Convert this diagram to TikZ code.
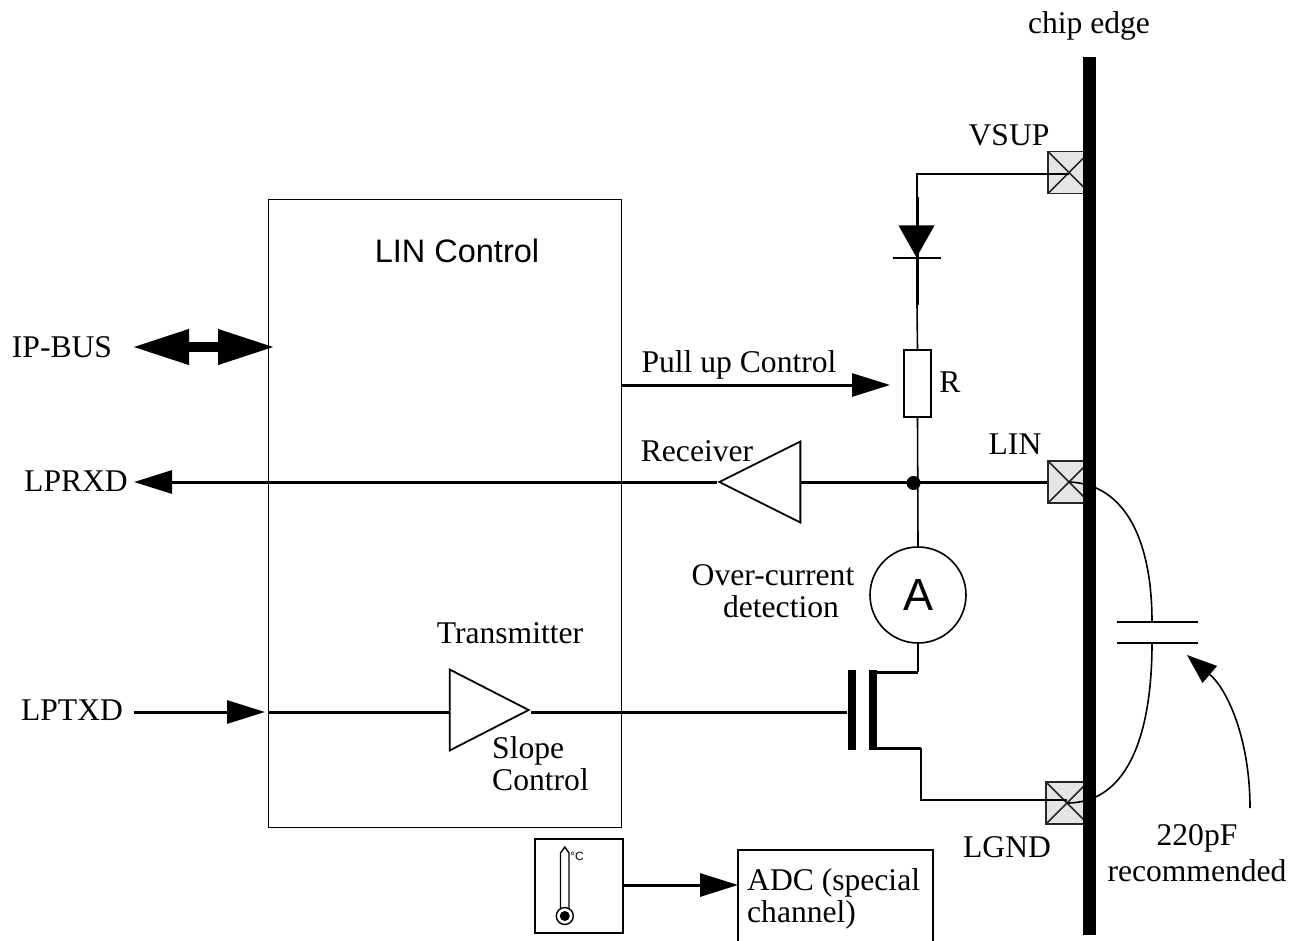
\documentclass[tikz,border=0pt]{standalone}
\usepackage{fontspec}
\setmainfont{Liberation Serif}
\setsansfont{Liberation Sans}
\usetikzlibrary{arrows.meta,shapes.geometric}

\begin{document}
\begin{tikzpicture}[
  x=1pt, y=-1pt,
  lbl/.style={inner sep=0pt, font=\fontsize{31.6}{32}\selectfont, align=center},
  box/.style={rectangle, draw=black, line width=1.4pt, fill=white, inner sep=0pt},
  pad/.style={rectangle, draw=black!85, line width=1.6pt, fill=gray!20, inner sep=0pt,
    minimum width=42pt, minimum height=42pt,
    path picture={\draw[line width=1.6pt] (path picture bounding box.north west) -- (path picture bounding box.south east)
      (path picture bounding box.south west) -- (path picture bounding box.north east);}},
  buffer/.style={isosceles triangle, isosceles triangle stretches, draw=black, line width=1.8pt,
    fill=white, inner sep=0pt, minimum width=81pt},
  plate/.style={rectangle, fill=black, inner sep=0pt, minimum width=81pt, minimum height=1.8pt},
  gatebar/.style={rectangle, fill=black, inner sep=0pt, minimum width=8pt, minimum height=80pt},
  wire/.style={line width=1.6pt},
  signal/.style={line width=3pt},
  sig/.style={signal, -{Triangle[length=38pt, width=23pt]}}
]
\useasboundingbox (0,0) rectangle (1304,941);

\node[box, line width=1pt, minimum width=353pt, minimum height=627pt] (lin) at (444.5,513.5) {};
\node[lbl, font=\sffamily\fontsize{32.5}{34}\selectfont] (linlbl) at (457,251) {LIN Control};

\node[pad] (vsup) at (1069,172.5) {};
\node[pad] (linpad) at (1069,482) {};
\node[pad] (lgnd) at (1067,803) {};

\node[plate] (captop) at (1157,622) {};
\node[plate] (capbot) at (1157,643) {};
\draw[wire] (linpad.center) .. controls (1125,484) and (1152,540) .. (1152,622);
\draw[wire] (1152,643) .. controls (1152,730) and (1130,803) .. (lgnd.center);

\node[rectangle, fill=black, inner sep=0pt, minimum width=13pt, minimum height=878pt] (edge) at (1089.5,496) {};
\node[lbl] (edgelbl) at (1089,26) {chip edge};

\node[lbl] (vsuplbl) at (1009,135) {VSUP};
\node[lbl] (linplbl) at (1015,444) {LIN};
\node[lbl] (lgndlbl) at (1007,847) {LGND};
\node[lbl] (ipbus) at (62,347) {IP-BUS};
\node[lbl] (lprxd) at (76,481) {LPRXD};
\node[lbl] (lptxd) at (72,710) {LPTXD};
\node[lbl] (pulllbl) at (739,365) {Pull up Control};
\node[lbl] (rlbl) at (950,382) {R};
\node[lbl] (rxlbl) at (697,451) {Receiver};
\node[lbl] (ovlbl) at (773,591) {Over-current\\\hspace*{16pt}detection};
\node[lbl] (txlbl) at (510,633) {Transmitter};
\node[lbl, align=left] (slopelbl) at (540.5,764) {Slope\\Control};
\node[lbl] (notelbl) at (1197,853) {220pF\\[4pt]recommended};

\coordinate (vbend) at (917,174);
\coordinate (sbend) at (921,748);
\coordinate (ipl) at (132,347);
\coordinate (ipr) at (275,347);
\coordinate (rxl) at (134,482);
\coordinate (txl) at (134,712);
\coordinate (noteend) at (1250,808);
\coordinate (pullr) at (890,385);

\node[isosceles triangle, isosceles triangle stretches, shape border rotate=270, fill=black,
  inner sep=0pt, minimum width=36pt, minimum height=32pt, anchor=apex] (diode) at (916.5,258) {};
\node[plate, minimum width=48pt] (cathode) at (916.5,258) {};
\node[box, minimum width=27pt, minimum height=67pt] (res) at (917.5,383.5) {};
\node[circle, draw=black, line width=1.6pt, fill=white, inner sep=0pt, minimum size=96pt,
  font=\sffamily\fontsize{45}{48}\selectfont] (amp) at (918,595) {A};
\node[buffer, minimum height=81pt, shape border rotate=180, anchor=apex] (rx) at (717,482) {};
\node[buffer, minimum height=79pt, anchor=apex] (tx) at (531,710) {};
\node[gatebar] (gate) at (851.5,709.5) {};
\node[gatebar] (chan) at (873,709.5) {};
\node[circle, fill=black, inner sep=0pt, minimum width=13pt, minimum height=14pt] (junc) at (913.5,483) {};

\draw[wire] (vsup.center |- vbend) -- (vbend) -- (vbend |- diode.lower side);
\draw[signal] (917,197) -- (917,305);
\draw[wire] (917,305) -- (res.north);
\draw[wire] (res.south) -- (amp.north);
\draw[wire] (amp.south) -- (918,672);
\draw[signal] (chan.north east |- 0,672) -- (918,672);
\draw[signal] (chan.south east |- 0,748) -- (sbend);
\draw[wire] (sbend) -- (921,800) -- (lgnd.center |- 0,800);

\draw[signal] (linpad.west) -- (rx.lower side);
\draw[sig] (rx.apex) -- (rxl);
\draw[sig] (txl) -- (265,712);
\draw[signal] (lin.west |- txl) -- (tx.lower side |- txl);
\draw[signal] (tx.apex |- txl) -- (gate.west |- txl);
\draw[sig] (lin.east |- pullr) -- (pullr);
\draw[line width=10pt, {Triangle[length=57pt, width=33pt]}-{Triangle[length=57pt, width=33pt]}] (ipl) -- (ipr);

\node[box, minimum width=88pt, minimum height=94pt] (therm) at (579,886) {};
\draw[line width=1.4pt] (560.5,916) -- (560.5,853) -- (564.8,847) -- (569,853) -- (569,916);
\draw[line width=1.4pt, fill=white] (564.8,916) circle (8.5pt);
\fill (564.8,916) circle (5pt);
\node[inner sep=0pt, font=\sffamily\fontsize{12}{13}\selectfont] (deg) at (577,856) {°C};

\draw[box] (738,941) -- (738,850) -- (933,850) -- (933,941);
\coordinate (adcw) at (738,885);
\node[lbl, align=left, anchor=west] (adc) at (747,899) {ADC (special\\channel)};
\draw[sig] (therm.east |- adcw) -- (adcw);

\draw[wire, -{Triangle[length=30pt, width=22pt]}] (noteend) .. controls (1250,740) and (1228,690) .. (1187,655);
\end{tikzpicture}
\end{document}
